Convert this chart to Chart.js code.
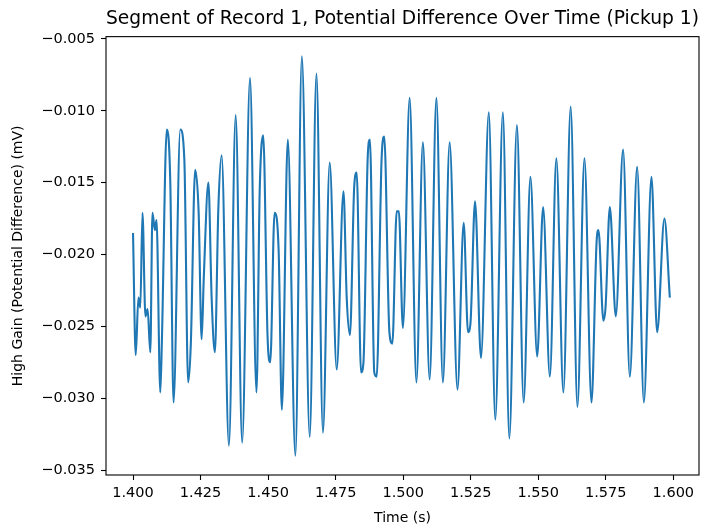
<!DOCTYPE html>
<html>
<head>
<meta charset="utf-8">
<script src="https://cdn.jsdelivr.net/npm/chart.js@4/dist/chart.umd.min.js"></script>
<style>
html,body{margin:0;padding:0;background:#fff;}
#c{display:block;}
</style>
</head>
<body>
<canvas id="c" width="719" height="528"></canvas>
<script>
const chartTitle = "Segment of Record 1, Potential Difference Over Time (Pickup 1)";
const xLabel = "Time (s)";
const yLabel = "High Gain (Potential Difference) (mV)";

const timeS = [
1.4000,1.4010,1.4020,1.4027,1.4035,1.4046,1.4054,1.4064,1.4072,1.4081,
1.4087,1.4101,1.4107,1.4125,1.4138,1.4150,1.4175,1.4190,1.4204,1.4214,
1.4230,1.4243,1.4254,1.4262,1.4279,1.4291,1.4303,1.4316,1.4328,1.4355,
1.4380,1.4404,1.4433,1.4457,1.4469,1.4482,1.4498,1.4508,1.4524,1.4539,
1.4551,1.4573,1.4601,1.4625,1.4654,1.4679,1.4703,1.4728,1.4754,1.4779,
1.4791,1.4803,1.4819,1.4828,1.4844,1.4853,1.4869,1.4877,1.4893,1.4902,
1.4920,1.4930,1.4949,1.4960,1.4976,1.4984,1.4999,1.5024,1.5049,1.5073,
1.5098,1.5123,1.5147,1.5172,1.5201,1.5224,1.5240,1.5249,1.5266,1.5288,
1.5317,1.5341,1.5369,1.5393,1.5421,1.5446,1.5471,1.5496,1.5518,1.5543,
1.5567,1.5593,1.5620,1.5645,1.5671,1.5697,1.5716,1.5723,1.5741,1.5749,
1.5765,1.5787,1.5814,1.5839,1.5866,1.5891,1.5919,1.5940,1.5967,1.5987
];

const gainMV = [
-0.0185,-0.0270,-0.0230,-0.0237,-0.0171,-0.0243,-0.0238,-0.0268,-0.0171,-0.0183,
-0.0176,-0.0296,-0.0259,-0.0113,-0.0150,-0.0303,-0.0113,-0.0134,-0.0289,-0.0262,
-0.0141,-0.0171,-0.0259,-0.0216,-0.0150,-0.0230,-0.0268,-0.0167,-0.0131,-0.0333,
-0.0103,-0.0331,-0.0077,-0.0296,-0.0155,-0.0117,-0.0257,-0.0275,-0.0171,-0.0197,
-0.0308,-0.0120,-0.0340,-0.0062,-0.0327,-0.0074,-0.0324,-0.0136,-0.0280,-0.0156,
-0.0230,-0.0256,-0.0152,-0.0143,-0.0282,-0.0275,-0.0131,-0.0120,-0.0282,-0.0285,
-0.0134,-0.0118,-0.0254,-0.0262,-0.0170,-0.0170,-0.0251,-0.0091,-0.0289,-0.0122,
-0.0287,-0.0091,-0.0289,-0.0122,-0.0294,-0.0178,-0.0254,-0.0248,-0.0163,-0.0272,
-0.0101,-0.0315,-0.0101,-0.0328,-0.0110,-0.0303,-0.0146,-0.0271,-0.0167,-0.0285,
-0.0133,-0.0296,-0.0097,-0.0306,-0.0133,-0.0303,-0.0191,-0.0183,-0.0246,-0.0237,
-0.0167,-0.0243,-0.0127,-0.0285,-0.0139,-0.0303,-0.0146,-0.0254,-0.0175,-0.0230
];

const xTicks = [1.400,1.425,1.450,1.475,1.500,1.525,1.550,1.575,1.600];
const yTicks = [-0.035,-0.030,-0.025,-0.020,-0.015,-0.010,-0.005];

const points = timeS.map((t,i)=>({x:t,y:gainMV[i]}));

const FONT = "'DejaVu Sans', 'Liberation Sans', sans-serif";

const boxPlugin = {
  id:'box',
  afterDraw(chart){
    const a = chart.chartArea, ctx = chart.ctx;
    ctx.save();
    ctx.strokeStyle = '#000';
    ctx.lineWidth = 1.1;
    ctx.strokeRect(a.left, a.top, a.right-a.left, a.bottom-a.top);
    ctx.restore();
  }
};

function fmt(v){
  const s = Math.abs(v).toFixed(3);
  return (v < -1e-12 ? '\u2212' : '') + s;
}

new Chart(document.getElementById('c'), {
  type:'line',
  data:{datasets:[{
    data:points,
    borderColor:'#1f77b4',
    borderWidth:2.1,
    pointRadius:0,
    cubicInterpolationMode:'monotone',
    fill:false
  }]},
  plugins:[boxPlugin],
  options:{
    responsive:false,
    devicePixelRatio:1,
    animation:false,
    layout:{padding:{left:0,right:20,top:0,bottom:0}},
    plugins:{
      legend:{display:false},
      tooltip:{enabled:false},
      title:{
        display:true,
        text:chartTitle,
        color:'#000',
        fullSize:false,
        font:{family:FONT,size:19.7,weight:'normal',lineHeight:1.2},
        padding:{top:7,bottom:6}
      }
    },
    scales:{
      x:{
        type:'linear',
        min:1.39,
        max:1.6095,
        afterBuildTicks(scale){ scale.ticks = xTicks.map(v=>({value:v})); },
        afterFit(scale){ scale.height = 53; },
        ticks:{
          color:'#000',
          font:{family:FONT,size:14.5},
          padding:5,
          maxRotation:0,
          autoSkip:false,
          callback:(v)=>Number(v).toFixed(3)
        },
        grid:{display:true,drawOnChartArea:false,drawTicks:true,tickLength:5,tickColor:'#000',tickWidth:1.1},
        border:{display:false},
        title:{display:true,text:xLabel,color:'#000',font:{family:FONT,size:14},padding:{top:1,bottom:1}}
      },
      y:{
        type:'linear',
        min:-0.03534,
        max:-0.00484,
        afterBuildTicks(scale){ scale.ticks = yTicks.map(v=>({value:v})); },
        afterFit(scale){ scale.width = 106; },
        ticks:{
          color:'#000',
          font:{family:FONT,size:14.5},
          padding:6,
          autoSkip:false,
          callback:(v)=>fmt(v)
        },
        grid:{display:true,drawOnChartArea:false,drawTicks:true,tickLength:5,tickColor:'#000',tickWidth:1.1},
        border:{display:false},
        title:{display:true,text:yLabel,color:'#000',font:{family:FONT,size:14},padding:{top:10,bottom:4}}
      }
    }
  }
});
</script>
</body>
</html>
